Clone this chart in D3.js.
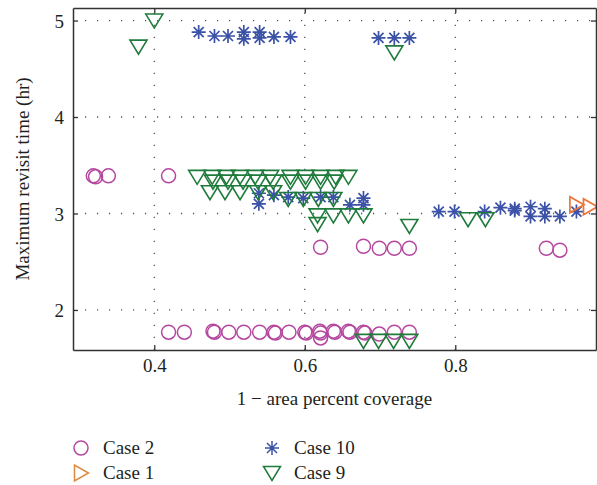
<!DOCTYPE html>
<html>
<head>
<meta charset="utf-8">
<script src="https://cdn.jsdelivr.net/npm/d3@7"></script>
<style>
  body { margin: 0; background: #fff; }
  svg { display: block; }
  text { font-family: "Liberation Serif", "DejaVu Serif", serif; fill: #231f20; }
</style>
</head>
<body>
<svg id="chart" width="597" height="485"></svg>
<script>
// ---------- DATA ----------
const xTicks = [0.4, 0.6, 0.8];
const yTicks = [2, 3, 4, 5];
const xLabel = "1 \u2212 area percent coverage";
const yLabel = "Maximum revisit time (hr)";

// Case 2 (circles)
const case2X = [0.319, 0.322, 0.339, 0.419,
  0.419, 0.440, 0.478, 0.480, 0.499, 0.519, 0.540, 0.559, 0.561, 0.579, 0.600, 0.602,
  0.620, 0.621, 0.621, 0.638, 0.640, 0.658, 0.660, 0.678, 0.680, 0.699, 0.719, 0.739,
  0.621, 0.678, 0.699, 0.719, 0.739, 0.921, 0.939];
const case2Y = [3.39, 3.38, 3.39, 3.39,
  1.77, 1.77, 1.78, 1.77, 1.77, 1.77, 1.77, 1.77, 1.76, 1.77, 1.77, 1.76,
  1.78, 1.76, 1.71, 1.78, 1.77, 1.78, 1.77, 1.77, 1.76, 1.75, 1.77, 1.77,
  2.65, 2.66, 2.64, 2.64, 2.64, 2.64, 2.62];

// Case 1 (right triangles)
const case1X = [0.961, 0.979];
const case1Y = [3.09, 3.07];

// Case 10 (asterisks)
const case10X = [0.459, 0.480, 0.498, 0.519, 0.519, 0.540, 0.540, 0.559, 0.581, 0.698, 0.719, 0.739,
  0.539, 0.539, 0.559, 0.578, 0.598, 0.621, 0.638, 0.660, 0.678, 0.678,
  0.778, 0.799, 0.839, 0.860, 0.879, 0.879, 0.900, 0.900, 0.919, 0.919, 0.939, 0.961];
const case10Y = [4.88, 4.84, 4.84, 4.88, 4.81, 4.88, 4.82, 4.83, 4.83, 4.82, 4.82, 4.82,
  3.21, 3.10, 3.19, 3.17, 3.16, 3.17, 3.17, 3.09, 3.16, 3.09,
  3.02, 3.02, 3.02, 3.06, 3.05, 3.03, 3.07, 2.97, 3.05, 2.97, 2.97, 3.02];

// Case 9 (down triangles)
const case9X = [0.379, 0.400, 0.719,
  0.457, 0.477, 0.496, 0.514, 0.534, 0.554, 0.581, 0.601, 0.621, 0.641, 0.658,
  0.478, 0.498, 0.518, 0.538, 0.558, 0.581, 0.601, 0.621, 0.639,
  0.474, 0.494, 0.514, 0.538, 0.558,
  0.578, 0.598, 0.618, 0.638,
  0.617, 0.638, 0.658, 0.678,
  0.617, 0.739, 0.817, 0.840,
  0.678, 0.698, 0.718, 0.739];
const case9Y = [4.73, 5.00, 4.67,
  3.38, 3.38, 3.38, 3.38, 3.38, 3.38, 3.38, 3.38, 3.38, 3.38, 3.38,
  3.33, 3.33, 3.33, 3.33, 3.33, 3.33, 3.33, 3.33, 3.33,
  3.22, 3.22, 3.22, 3.22, 3.22,
  3.15, 3.15, 3.15, 3.15,
  2.98, 2.98, 2.98, 2.98,
  2.89, 2.87, 2.94, 2.94,
  1.68, 1.68, 1.68, 1.68];

const legendNames = ["Case 2", "Case 1", "Case 10", "Case 9"];

// ---------- STYLE ----------
const colors = { c2: "#b5479f", c1: "#ec7438", c1Legend: "#dc8a3e", c10: "#3b52a6", c9: "#1f7b3b" };
const svg = d3.select("#chart");
const L = 73, R = 596, T = 8, B = 350;
const FS = 19;

const x = d3.scaleLinear().domain([0.292, 0.987]).range([L, R]);
const y = d3.scaleLinear().domain([1.585, 5.13]).range([B, T]);

// Grid (dotted)
const grid = svg.append("g").attr("stroke", "#555").attr("stroke-width", 1.3)
  .attr("stroke-dasharray", "1.2,10.8");
grid.selectAll("line.gx").data(xTicks).join("line")
  .attr("x1", d => x(d)).attr("x2", d => x(d)).attr("y1", B).attr("y2", T);
grid.selectAll("line.gy").data(yTicks).join("line")
  .attr("y1", d => y(d)).attr("y2", d => y(d)).attr("x1", L).attr("x2", R);

// Markers
const sym = {
  circle: g => g.append("circle").attr("r", 7),
  down: g => g.append("path").attr("d", "M-8.5,-6.5L8.5,-6.5L0,7.5Z"),
  right: g => g.append("path").attr("d", "M-6.5,-8L-6.5,8L7.5,0Z"),
  star: g => g.append("path").attr("d", "M-7,0H7M0,-7V7M-5,-5L5,5M-5,5L5,-5")
};

function drawSeries(xs, ys, kind, color, sw) {
  const g = svg.append("g").attr("fill", "none").attr("stroke", color).attr("stroke-width", sw);
  const pts = xs.map((v, i) => [v, ys[i]]);
  g.selectAll("g").data(pts).join("g")
    .attr("transform", d => `translate(${x(d[0])},${y(d[1])})`)
    .each(function () { sym[kind](d3.select(this)); });
}
drawSeries(case2X, case2Y, "circle", colors.c2, 1.5);
drawSeries(case10X, case10Y, "star", colors.c10, 1.7);
drawSeries(case9X, case9Y, "down", colors.c9, 1.6);
drawSeries(case1X, case1Y, "right", colors.c1, 1.7);

// Axes frame with inward ticks
const axG = svg.append("g");
const axB = axG.append("g").attr("transform", `translate(0,${B})`)
  .call(d3.axisBottom(x).tickValues(xTicks).tickSizeInner(-5).tickSizeOuter(0).tickPadding(9).tickFormat(d3.format(".1f")));
const axT = axG.append("g").attr("transform", `translate(0,${T})`)
  .call(d3.axisTop(x).tickValues(xTicks).tickSizeInner(-5).tickSizeOuter(0).tickFormat(""));
const axL = axG.append("g").attr("transform", `translate(${L},0)`)
  .call(d3.axisLeft(y).tickValues(yTicks).tickSizeInner(-5).tickSizeOuter(0).tickPadding(9).tickFormat(d3.format("d")));
const axR = axG.append("g").attr("transform", `translate(${R},0)`)
  .call(d3.axisRight(y).tickValues(yTicks).tickSizeInner(-5).tickSizeOuter(0).tickFormat(""));
axG.selectAll(".domain").attr("stroke", "#333").attr("stroke-width", 1.5);
axG.selectAll(".tick line").attr("stroke", "#333").attr("stroke-width", 1.3);
axG.selectAll(".tick text").attr("font-size", FS).attr("fill", "#231f20")
  .attr("font-family", "Liberation Serif, DejaVu Serif, serif");
axB.selectAll(".tick text").attr("dy", "0.71em");
axL.selectAll(".tick text").attr("dy", "0.35em");

// Axis labels
svg.append("text").attr("x", (L + R) / 2).attr("y", 405).attr("text-anchor", "middle")
  .attr("font-size", FS).text(xLabel);
svg.append("text").attr("transform", `translate(29,${(T + B) / 2}) rotate(-90)`)
  .attr("text-anchor", "middle").attr("font-size", FS).text(yLabel);

// Legend
const legend = [
  { name: legendNames[0], kind: "circle", color: colors.c2, mx: 81, my: 448 },
  { name: legendNames[1], kind: "right", color: colors.c1Legend, mx: 81, my: 473 },
  { name: legendNames[2], kind: "star", color: colors.c10, mx: 272, my: 448 },
  { name: legendNames[3], kind: "down", color: colors.c9, mx: 272, my: 473 }
];
legend.forEach(d => {
  const g = svg.append("g").attr("transform", `translate(${d.mx},${d.my})`)
    .attr("fill", "none").attr("stroke", d.color).attr("stroke-width", 1.5);
  sym[d.kind](g);
  svg.append("text").attr("x", d.mx + 22).attr("y", d.my + 6).attr("font-size", FS).text(d.name);
});
</script>
</body>
</html>
